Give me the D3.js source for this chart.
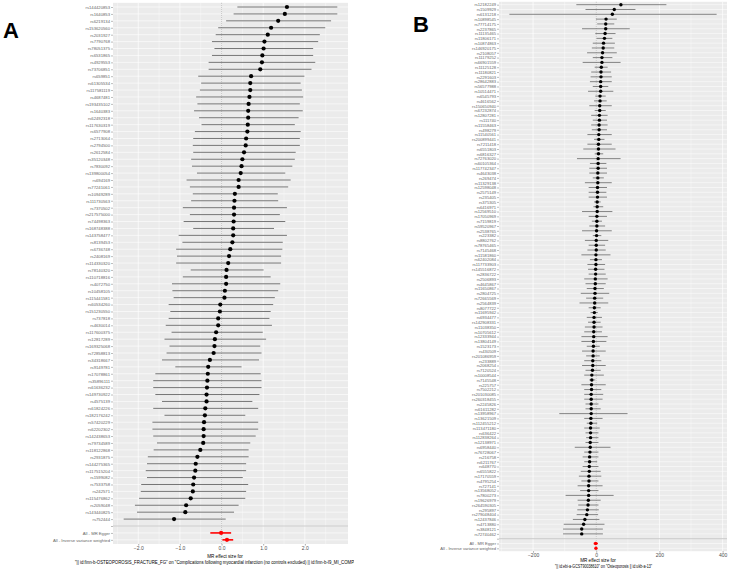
<!DOCTYPE html>
<html>
<head>
<meta charset="utf-8">
<script src="https://cdn.jsdelivr.net/npm/d3@7"></script>
<style>
    body { margin: 0; background: #fff; }
    svg { display: block; font-family: "Liberation Sans", Arial, sans-serif; }
</style>
</head>
<body>
<div id="chart"></div>
<script>

// ---- panel A data (top row first) ----
var snpsA = ["rs144420853", "rs1640853", "rs6219134", "rs153620560", "rs2031927", "rs7790768", "rs78051375", "rs6531865",
    "rs4929553", "rs73706851", "rs659851", "rs61305534", "rs117581119", "rs4687481", "rs193435102", "rs1640383",
    "rs62492318", "rs117630319", "rs6577908", "rs2713064", "rs2794500", "rs2612584", "rs35120348", "rs7830092",
    "rs139800054", "rs694169", "rs77241061", "rs10949289", "rs111730563", "rs7370502", "rs217575000", "rs74498363",
    "rs168748388", "rs143758477", "rs8139453", "rs6736748", "rs2408169", "rs114330320", "rs78140320", "rs110718816",
    "rs4072750", "rs10458105", "rs115441581", "rs60534260", "rs151230550", "rs737818", "rs4630014", "rs117600375",
    "rs12817289", "rs169325068", "rs72858813", "rs34318667", "rs9149781", "rs17078861", "rs35896111", "rs61636232",
    "rs149730922", "rs4575139", "rs61824226", "rs182176242", "rs57420229", "rs62202302", "rs142438653", "rs79734589",
    "rs118122868", "rs2931875", "rs144275365", "rs117515204", "rs1599082", "rs7533758", "rs242571", "rs115476862",
    "rs2059048", "rs143440825", "rs752444"];
var bA = [1.57, 1.52, 1.36, 1.19, 1.11, 1.03, 1.01, 0.98, 0.97, 0.93, 0.71, 0.69, 0.69, 0.67, 0.65, 0.64,
    0.64, 0.63, 0.62, 0.59, 0.58, 0.54, 0.50, 0.48, 0.46, 0.41, 0.41, 0.32, 0.31, 0.30, 0.30, 0.29,
    0.28, 0.28, 0.26, 0.21, 0.18, 0.16, 0.12, 0.11, 0.11, 0.08, 0.07, -0.03, -0.04, -0.08, -0.08, -0.13,
    -0.16, -0.17, -0.19, -0.28, -0.32, -0.33, -0.34, -0.35, -0.36, -0.36, -0.39, -0.40, -0.42, -0.43, -0.43, -0.44,
    -0.51, -0.58, -0.62, -0.63, -0.66, -0.68, -0.69, -0.74, -0.85, -0.87, -1.14];
var loA = [0.38, 0.29, 0.11, -0.08, -0.14, -0.23, -0.17, -0.23, -0.31, -0.31, -0.56, -0.49, -0.52, -0.61, -0.58, -0.66,
    -0.54, -0.48, -0.64, -0.68, -0.69, -0.68, -0.73, -0.71, -0.59, -0.84, -0.76, -0.69, -0.73, -0.93, -0.76, -0.91,
    -0.68, -1.03, -0.94, -1.09, -1.07, -1.09, -0.74, -0.93, -1.19, -1.18, -1.15, -1.27, -1.23, -1.27, -1.34, -1.20,
    -1.37, -1.25, -1.32, -1.43, -1.11, -1.59, -1.64, -1.64, -1.59, -1.43, -1.64, -1.37, -1.66, -1.66, -1.64, -1.55,
    -1.63, -1.77, -1.79, -1.82, -1.79, -1.93, -1.94, -1.98, -2.08, -2.03, -2.35];
var hiA = [2.78, 2.78, 2.63, 2.49, 2.36, 2.32, 2.20, 2.20, 2.25, 2.16, 1.99, 1.90, 1.93, 1.96, 1.88, 1.95,
    1.85, 1.76, 1.90, 1.88, 1.88, 1.78, 1.76, 1.70, 1.53, 1.66, 1.60, 1.35, 1.36, 1.57, 1.40, 1.53,
    1.26, 1.57, 1.47, 1.46, 1.43, 1.43, 1.01, 1.18, 1.41, 1.36, 1.28, 1.24, 1.18, 1.15, 1.21, 0.99,
    1.07, 0.93, 0.96, 0.90, 0.48, 0.94, 0.96, 0.96, 0.91, 0.74, 0.88, 0.57, 0.88, 0.88, 0.82, 0.69,
    0.65, 0.65, 0.59, 0.59, 0.51, 0.64, 0.59, 0.57, 0.41, 0.30, 0.10];

// ---- panel B data (top row first) ----
var snpsB = ["rs12182249", "rs1509929", "rs6131218", "rs10898545", "rs77714175", "rs2237865", "rs11135465", "rs11806171",
    "rs10874863", "rs146920175", "rs2108057", "rs11179252", "rs66901559", "rs11125128", "rs11180821", "rs2291603",
    "rs28642883", "rs56577988", "rs10514471", "rs6545793", "rs4616562", "rs150650940", "rs67232874", "rs12807281",
    "rs111740", "rs11558463", "rs498279", "rs11540561", "rs200899441", "rs7211418", "rs6551803", "rs6816327",
    "rs72763020", "rs60105364", "rs117742347", "rs4643038", "rs269474", "rs11329138", "rs12598048", "rs2575149",
    "rs235405", "rs375305", "rs6416971", "rs12569510", "rs17050969", "rs7159819", "rs59520967", "rs2538765",
    "rs223382", "rs8802762", "rs78765465", "rs7145468", "rs11581860", "rs62402084", "rs117733903", "rs145516872",
    "rs2836722", "rs2506893", "rs4645867", "rs11650867", "rs2804725", "rs72665569", "rs2564839", "rs8077722",
    "rs11695942", "rs6934477", "rs142908331", "rs11038350", "rs10705612", "rs12333944", "rs13804149", "rs1523173",
    "rs430509", "rs201086959", "rs233889", "rs2068254", "rs7120524", "rs10008544", "rs7145548", "rs225757",
    "rs7502212", "rs201030085", "rs260318455", "rs2245826", "rs61611282", "rs13958967", "rs13621509", "rs112455212",
    "rs113471180", "rs636422", "rs112838264", "rs12138971", "rs6958440", "rs76728067", "rs216758", "rs6211767",
    "rs648770", "rs6555822", "rs17170559", "rs4795254", "rs727141", "rs13568052", "rs7800273", "rs19626979",
    "rs264590305", "rs295897", "rs279048404", "rs12437846", "rs4713880", "rs3848121", "rs72740462"];
var bB = [78, 57, 51, 31, 30, 30, 28, 26, 23, 22, 20, 18, 18, 16, 15, 15,
    14, 14, 14, 12, 12, 11, 11, 10, 10, 9, 9, 8, 8, 7, 7, 7,
    6, 6, 6, 5, 5, 5, 4, 4, 4, 3, 3, 3, 2, 2, 2, 1,
    1, 0, 0, 0, -1, -1, -1, -2, -2, -3, -3, -4, -4, -5, -5, -6,
    -6, -7, -7, -7, -8, -8, -9, -9, -10, -10, -11, -11, -12, -14, -14, -15,
    -15, -16, -16, -16, -16, -16, -17, -17, -18, -18, -18, -19, -19, -20, -21, -21,
    -22, -22, -23, -23, -24, -24, -24, -25, -26, -28, -30, -36, -40, -46, -46];
var loB = [-63, -34, -275, -1, 3, -45, -3, 1, -11, -14, -29, -11, -43, -5, -16, -18,
    -20, -11, -26, -3, -7, -22, -5, -16, -11, -16, -14, -28, -7, -28, -41, -5,
    -61, -20, -22, -22, -11, -36, -24, -24, -24, -7, -9, -45, -24, -14, -22, -45,
    -11, -36, -24, -28, -47, -20, -28, -26, -24, -38, -34, -30, -49, -32, -53, -24,
    -18, -30, -26, -36, -38, -47, -47, -30, -45, -32, -38, -45, -34, -38, -22, -47,
    -38, -38, -38, -34, -34, -117, -38, -30, -38, -34, -32, -34, -68, -38, -43, -38,
    -43, -49, -55, -47, -59, -51, -97, -59, -57, -60, -62, -74, -103, -105, -105];
var hiB = [222, 124, 381, 65, 57, 106, 61, 51, 59, 57, 65, 51, 77, 36, 47, 49,
    49, 38, 54, 30, 33, 49, 30, 36, 34, 36, 34, 49, 26, 49, 61, 22,
    77, 32, 34, 34, 24, 49, 34, 32, 34, 14, 22, 51, 34, 18, 28, 49,
    16, 38, 28, 30, 45, 18, 28, 26, 30, 36, 30, 24, 41, 22, 38, 14,
    5, 18, 14, 20, 18, 36, 32, 11, 30, 11, 16, 30, 14, 24, -3, 30,
    16, 22, 20, 7, 14, 99, 20, 3, 11, 7, 7, 7, 45, 7, 7, 3,
    7, 14, 16, 7, 20, 7, 55, 14, 7, 8, 6, 10, 26, 21, 21];

// ---- summary rows ----
var methods = ["All - MR Egger", "All - Inverse variance weighted"];
var sumA = { b: [-0.01, 0.13], lo: [-0.27, 0.02], hi: [0.23, 0.28] };
var sumB = { b: [-2, -1], lo: [-8, -4], hi: [5, 2] };

var ticksA = [-2, -1, 0, 1, 2];
var ticksB = [-200, 0, 200, 400];

var titleA = ["MR effect size for",
    "\"|| id:finn-b-OSTEOPOROSIS_FRACTURE_FG\" on \"Complications following myocardial infarction (no controls excluded) || id:finn-b-I9_MI_COMPL\""];
var titleB = ["MR effect size for",
    "\"|| id:ebi-a-GCST90038610\" on \"Osteoporosis || id:ukb-a-13\""];


var svg = d3.select("#chart")
    .append("svg")
    .attr("width", 730)
    .attr("height", 570);


/*
 *  ForestPlot - one MR forest panel
 */

ForestPlot = function(_svg, _cfg) {
    this.svg = _svg;
    this.cfg = _cfg;
    this.initVis();
}

ForestPlot.prototype.initVis = function() {
    var vis = this;
    var c = vis.cfg;

    vis.g = vis.svg.append("g");

    // one row per SNP, then an empty row, then the two methods
    vis.rows = c.snps.map(function(d, i) { return { key: "s" + i, label: d, b: c.b[i], lo: c.lo[i], hi: c.hi[i], tot: 0 }; });
    vis.rows.push({ key: "blank", label: "", tot: -1 });
    methods.forEach(function(m, i) {
        vis.rows.push({ key: "m" + i, label: m, b: c.sum.b[i], lo: c.sum.lo[i], hi: c.sum.hi[i], tot: 1 });
    });

    var est = vis.rows.filter(function(d) { return d.tot >= 0; });
    var mn = d3.min(est, function(d) { return d.lo; }),
        mx = d3.max(est, function(d) { return d.hi; });
    var ex = (mx - mn) * 0.05;

    vis.x = d3.scaleLinear()
        .domain([mn - ex, mx + ex])
        .range([c.left, c.right]);

    vis.y = d3.scalePoint()
        .domain(vis.rows.map(function(d) { return d.key; }))
        .range([c.top, c.bottom])
        .padding(0.6);

    vis.updateVis();
}

ForestPlot.prototype.updateVis = function() {
    var vis = this;
    var c = vis.cfg;
    var g = vis.g;

    g.append("rect")
        .attr("x", c.left).attr("y", c.top)
        .attr("width", c.right - c.left).attr("height", c.bottom - c.top)
        .attr("fill", "#EBEBEB");

    // minor grid between major breaks
    var step = c.ticks[1] - c.ticks[0];
    var minor = [];
    for (var t = c.ticks[0] - step / 2; t <= c.ticks[c.ticks.length - 1] + step / 2; t += step) {
        if (t >= vis.x.domain()[0] && t <= vis.x.domain()[1]) minor.push(t);
    }
    g.selectAll(".minor").data(minor).enter().append("line")
        .attr("x1", function(d) { return vis.x(d); }).attr("x2", function(d) { return vis.x(d); })
        .attr("y1", c.top).attr("y2", c.bottom)
        .attr("stroke", "#fff").attr("stroke-width", 0.35);

    g.selectAll(".major").data(c.ticks).enter().append("line")
        .attr("x1", function(d) { return vis.x(d); }).attr("x2", function(d) { return vis.x(d); })
        .attr("y1", c.top).attr("y2", c.bottom)
        .attr("stroke", "#fff").attr("stroke-width", 0.7);

    g.selectAll(".hgrid").data(vis.rows).enter().append("line")
        .attr("x1", c.left).attr("x2", c.right)
        .attr("y1", function(d) { return vis.y(d.key); }).attr("y2", function(d) { return vis.y(d.key); })
        .attr("stroke", "#fff").attr("stroke-width", c.gridW);

    // zero line
    g.append("line")
        .attr("x1", vis.x(0)).attr("x2", vis.x(0))
        .attr("y1", c.top).attr("y2", c.bottom)
        .attr("stroke", "#999").attr("stroke-width", 0.6)
        .attr("stroke-dasharray", "1,1");

    // separator on the blank row
    g.append("line")
        .attr("x1", c.left).attr("x2", c.right)
        .attr("y1", vis.y("blank")).attr("y2", vis.y("blank"))
        .attr("stroke", "#BEBEBE").attr("stroke-width", 0.8);

    var est = vis.rows.filter(function(d) { return d.tot >= 0; });

    g.selectAll(".bar").data(est).enter().append("line")
        .attr("x1", function(d) { return vis.x(d.lo); })
        .attr("x2", function(d) { return vis.x(d.hi); })
        .attr("y1", function(d) { return vis.y(d.key); })
        .attr("y2", function(d) { return vis.y(d.key); })
        .attr("stroke", function(d) { return d.tot ? "#F00" : "#666"; })
        .attr("stroke-width", function(d) { return d.tot ? 1.6 : c.barW; });

    g.selectAll(".pt").data(est).enter().append("circle")
        .attr("cx", function(d) { return vis.x(d.b); })
        .attr("cy", function(d) { return vis.y(d.key); })
        .attr("r", c.r)
        .attr("fill", function(d) { return d.tot ? "#F00" : "#000"; });

    // y axis
    var labels = {};
    vis.rows.forEach(function(d) { labels[d.key] = d.label; });
    var yAxis = d3.axisLeft(vis.y).tickSize(2).tickPadding(1).tickFormat(function(k) { return labels[k]; });
    var ya = g.append("g")
        .attr("transform", "translate(" + c.left + ",0)")
        .call(yAxis);
    ya.select(".domain").remove();
    ya.selectAll("line").attr("stroke", "#555").attr("stroke-width", 0.4);
    ya.selectAll("text").attr("fill", "#666").attr("font-size", c.yFont).attr("font-family", null);

    // x axis
    var xAxis = d3.axisBottom(vis.x).tickValues(c.ticks).tickSize(1.5).tickPadding(0.5);
    var xa = g.append("g")
        .attr("transform", "translate(0," + c.bottom + ")")
        .call(xAxis);
    xa.select(".domain").remove();
    xa.selectAll("line").attr("stroke", "#555").attr("stroke-width", 0.5);
    xa.selectAll("text").attr("fill", "#4D4D4D").attr("font-size", 5).attr("font-family", null);

    // axis title, clipped at the panel image border
    var clipId = "clip" + c.id;
    vis.svg.append("clipPath").attr("id", clipId)
        .append("rect").attr("x", c.clipX0).attr("y", 0).attr("width", c.clipX1 - c.clipX0).attr("height", 570);

    var tg = g.append("g").attr("clip-path", "url(#" + clipId + ")");
    tg.append("text")
        .attr("x", c.titleX[0]).attr("y", c.titleY[0])
        .attr("text-anchor", "middle")
        .attr("font-size", c.titleFont)
        .text(c.title[0]);
    tg.append("text")
        .attr("x", c.titleX[1]).attr("y", c.titleY[1])
        .attr("text-anchor", "start")
        .attr("font-size", c.titleFont)
        .attr("textLength", c.title2W)
        .attr("lengthAdjust", "spacingAndGlyphs")
        .text(c.title[1]);

    vis.svg.append("text")
        .attr("x", c.tagX).attr("y", c.tagY)
        .attr("font-size", 22).attr("font-weight", "bold")
        .text(c.tag);
}


new ForestPlot(svg, {
    id: "A", tag: "A", tagX: 3, tagY: 37.5,
    snps: snpsA, b: bA, lo: loA, hi: hiA, sum: sumA, ticks: ticksA,
    left: 113, right: 348, top: 2.85, bottom: 544,
    r: 2.1, barW: 0.9, gridW: 0.6, yFont: 4.2,
    title: titleA, titleX: [225, 75], titleY: [557.5, 563.5], titleFont: 4.6, title2W: 283,
    clipX0: 0, clipX1: 354
});

new ForestPlot(svg, {
    id: "B", tag: "B", tagX: 413, tagY: 31.7,
    snps: snpsB, b: bB, lo: loB, hi: hiB, sum: sumB, ticks: ticksB,
    left: 499, right: 727, top: 1.8, bottom: 551.2,
    r: 1.7, barW: 0.8, gridW: 0.5, yFont: 4.1,
    title: titleB, titleX: [598, 555], titleY: [561.8, 567.6], titleFont: 4.6, title2W: 97,
    clipX0: 356, clipX1: 730
});

</script>
</body>
</html>
